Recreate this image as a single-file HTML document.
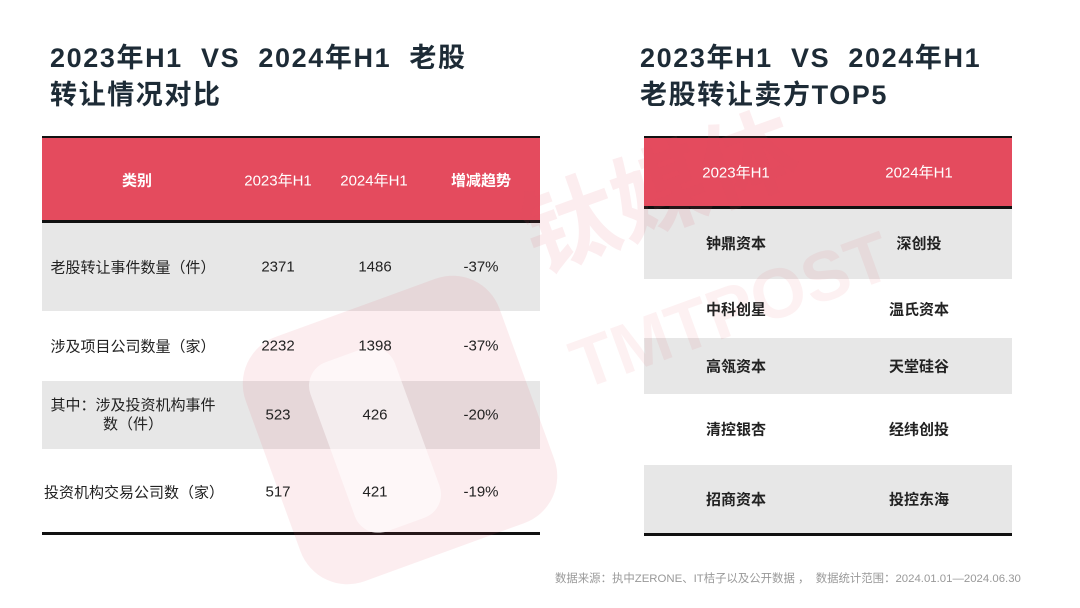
<!DOCTYPE html>
<html><head><meta charset="utf-8"><style>
*{margin:0;padding:0;box-sizing:border-box}
body{width:1080px;height:608px;background:#fff;position:relative;overflow:hidden;font-family:"Liberation Sans","Noto Sans CJK SC",sans-serif}
.a{position:absolute}
.t{color:#1d2b36;font-size:27px;font-weight:bold;line-height:36px;white-space:nowrap;letter-spacing:1.6px}
.hd{background:#e44b5e}
.g{background:#e7e7e7}
.line{background:#111;height:3px}
.c{position:absolute;text-align:center;transform:translate(-50%,-50%);white-space:nowrap;font-size:15px;color:#222}
.w{color:#fff}
.b{font-weight:bold}
</style></head><body>
<div class="a t" style="left:50px;top:40px">2023年H1&nbsp; VS&nbsp; 2024年H1&nbsp; 老股</div>
<div class="a t" style="left:50px;top:77px">转让情况对比</div>
<div class="a t" style="left:640px;top:40px">2023年H1&nbsp; VS&nbsp; 2024年H1</div>
<div class="a t" style="left:640px;top:77px">老股转让卖方TOP5</div>

<div class="a hd" style="left:42px;top:137px;width:498px;height:84px"></div>
<div class="a line" style="left:42px;top:136px;width:498px;height:2px"></div>
<div class="a line" style="left:42px;top:220px;width:498px"></div>
<div class="a g" style="left:42px;top:223px;width:498px;height:88px"></div>
<div class="a g" style="left:42px;top:381px;width:498px;height:68px"></div>
<div class="a line" style="left:42px;top:532px;width:498px"></div>

<div class="a hd" style="left:644px;top:137px;width:368px;height:70px"></div>
<div class="a line" style="left:644px;top:136px;width:368px;height:2px"></div>
<div class="a line" style="left:644px;top:206px;width:368px"></div>
<div class="a g" style="left:644px;top:209px;width:368px;height:70px"></div>
<div class="a g" style="left:644px;top:338px;width:368px;height:56px"></div>
<div class="a g" style="left:644px;top:465px;width:368px;height:69px"></div>
<div class="a line" style="left:644px;top:533px;width:368px"></div>

<div class="a" style="left:265px;top:300px;width:270px;height:260px;border-radius:50px;background:rgba(228,75,94,0.1);transform:rotate(-20deg)"></div>
<div class="a" style="left:330px;top:350px;width:90px;height:180px;border-radius:25px;background:rgba(255,255,255,0.55);transform:rotate(-20deg)"></div>
<div class="a" style="left:500px;top:170px;font-size:95px;font-weight:bold;color:rgba(228,75,94,0.1);transform:rotate(-20deg);transform-origin:left top;white-space:nowrap">钛媒体</div>
<div class="a" style="left:560px;top:330px;font-size:70px;font-weight:bold;color:rgba(228,75,94,0.08);transform:rotate(-20deg);transform-origin:left top;white-space:nowrap">TMTPOST</div>

<div class="c w b" style="left:137px;top:180px">类别</div>
<div class="c w" style="left:278px;top:180px">2023年H1</div>
<div class="c w" style="left:374px;top:180px">2024年H1</div>
<div class="c w b" style="left:481px;top:180px">增减趋势</div>

<div class="c" style="left:133px;top:267px">老股转让事件数量（件）</div>
<div class="c" style="left:278px;top:267px">2371</div>
<div class="c" style="left:375px;top:267px">1486</div>
<div class="c" style="left:481px;top:267px">-37%</div>

<div class="c" style="left:133px;top:346px">涉及项目公司数量（家）</div>
<div class="c" style="left:278px;top:346px">2232</div>
<div class="c" style="left:375px;top:346px">1398</div>
<div class="c" style="left:481px;top:346px">-37%</div>

<div class="c" style="left:133px;top:415px;line-height:19px">其中：涉及投资机构事件<br>数（件）</div>
<div class="c" style="left:278px;top:415px">523</div>
<div class="c" style="left:375px;top:415px">426</div>
<div class="c" style="left:481px;top:415px">-20%</div>

<div class="c" style="left:134px;top:492px">投资机构交易公司数（家）</div>
<div class="c" style="left:278px;top:492px">517</div>
<div class="c" style="left:375px;top:492px">421</div>
<div class="c" style="left:481px;top:492px">-19%</div>

<div class="c w" style="left:736px;top:172px">2023年H1</div>
<div class="c w" style="left:919px;top:172px">2024年H1</div>
<div class="c b" style="left:736px;top:243px">钟鼎资本</div><div class="c b" style="left:919px;top:243px">深创投</div>
<div class="c b" style="left:736px;top:309px">中科创星</div><div class="c b" style="left:919px;top:309px">温氏资本</div>
<div class="c b" style="left:736px;top:366px">高瓴资本</div><div class="c b" style="left:919px;top:366px">天堂硅谷</div>
<div class="c b" style="left:736px;top:429px">清控银杏</div><div class="c b" style="left:919px;top:429px">经纬创投</div>
<div class="c b" style="left:736px;top:499px">招商资本</div><div class="c b" style="left:919px;top:499px">投控东海</div>

<div class="a" style="left:555px;top:570px;font-size:11.4px;color:#999;white-space:nowrap">数据来源：执中ZERONE、IT桔子以及公开数据 ，&nbsp; 数据统计范围：2024.01.01—2024.06.30</div>
</body></html>
